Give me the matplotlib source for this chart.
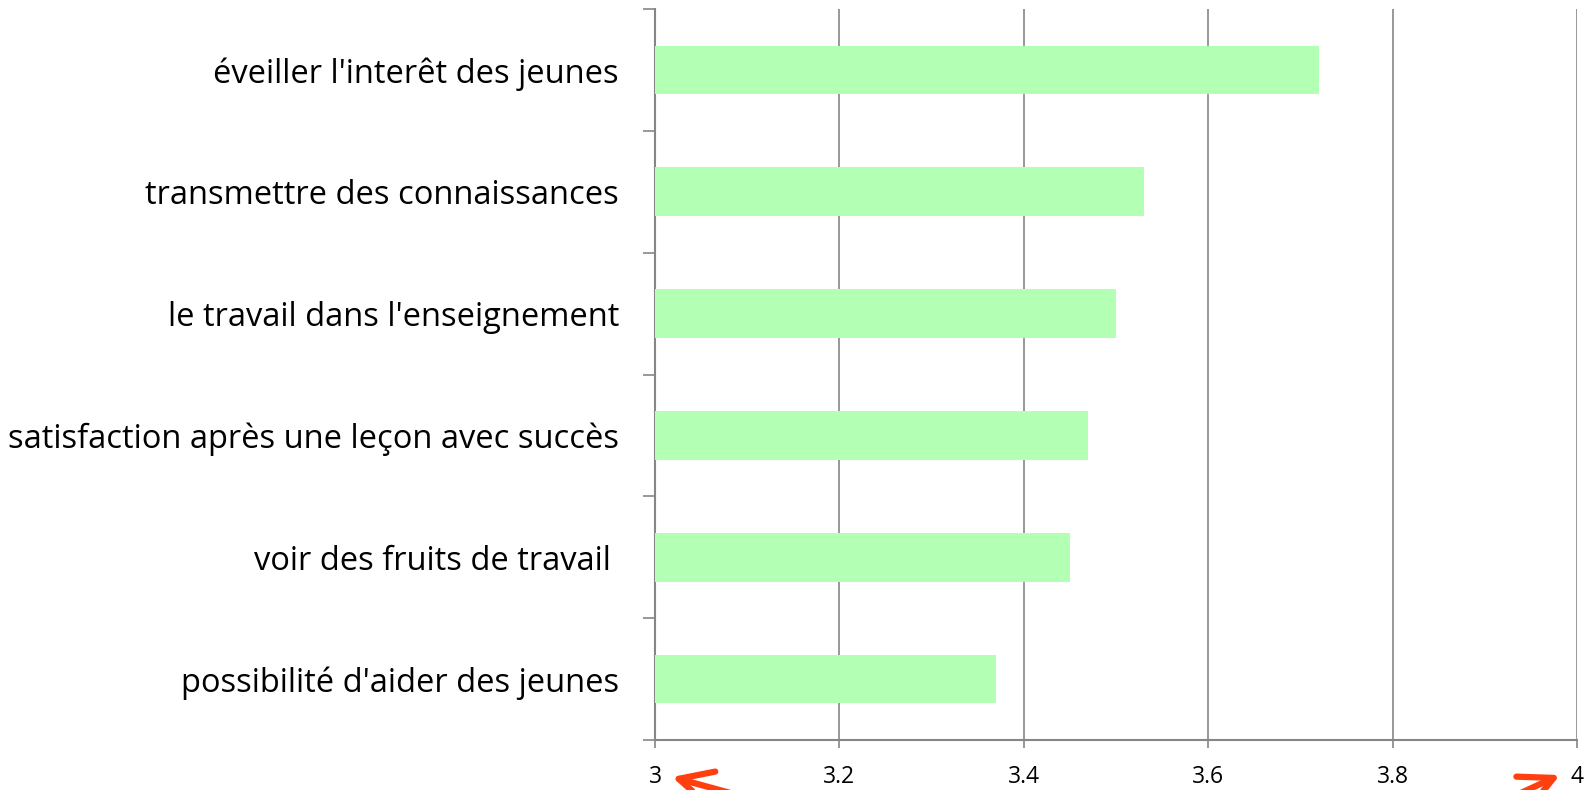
import matplotlib
matplotlib.use("Agg")
import matplotlib.pyplot as plt
import numpy as np

categories = [
    "possibilité d'aider des jeunes",
    "voir des fruits de travail ",
    "satisfaction après une leçon avec succès",
    "le travail dans l'enseignement",
    "transmettre des connaissances",
    "éveiller l'interêt des jeunes",
]
values = [3.37, 3.45, 3.47, 3.50, 3.53, 3.72]
xticks = [3, 3.2, 3.4, 3.6, 3.8, 4]
xticklabels = ["3", "3.2", "3.4", "3.6", "3.8", "4"]

plt.rcParams['font.family'] = ['Open Sans', 'DejaVu Sans']

fig = plt.figure(figsize=(15.87, 7.9), dpi=100)
ax = fig.add_axes([655/1587, 1-740/790, (1577-655)/1587, (740-9)/790])

gray = '#868686'
y = np.arange(len(categories))
ax.barh(y, [v - 3 for v in values], left=3, height=0.4, color='#b3ffb3', zorder=3)

ax.set_xlim(3, 4)
ax.set_ylim(-0.5, len(categories) - 0.5)
ax.set_xticks(xticks)
ax.set_xticklabels(xticklabels, fontsize=16.5)
ax.set_yticks(np.arange(len(categories) + 1) - 0.5)
ax.set_yticklabels([])
ax.set_yticks(y, minor=True)
ax.set_yticklabels(categories, minor=True, fontsize=23.5)
ax.tick_params(axis='y', which='minor', length=0, pad=26)
ax.tick_params(axis='y', which='major', length=9, color=gray, width=1.2)
ax.tick_params(axis='x', length=6, color=gray, width=1.2, pad=12)

ax.grid(axis='x', color=gray, linewidth=1.2, zorder=0)
for s in ['top', 'right']:
    ax.spines[s].set_visible(False)
for s in ['left', 'bottom']:
    ax.spines[s].set_color(gray)
    ax.spines[s].set_linewidth(1.5)

# red arrows pointing at the axis end labels
arrow_col = '#ff3f0f'
fig.patches.append(matplotlib.patches.FancyArrowPatch(
    (745/1587, 1-797/790), (672/1587, 1-777/790), transform=fig.transFigure,
    arrowstyle='->,head_length=24,head_width=12', color=arrow_col, lw=4.5,
    mutation_scale=1, shrinkA=0, shrinkB=0))
fig.patches.append(matplotlib.patches.FancyArrowPatch(
    (1512/1587, 1-797/790), (1560/1587, 1-775/790), transform=fig.transFigure,
    arrowstyle='->,head_length=24,head_width=12', color=arrow_col, lw=4.5,
    mutation_scale=1, shrinkA=0, shrinkB=0))

fig.savefig('out.png', dpi=100)
